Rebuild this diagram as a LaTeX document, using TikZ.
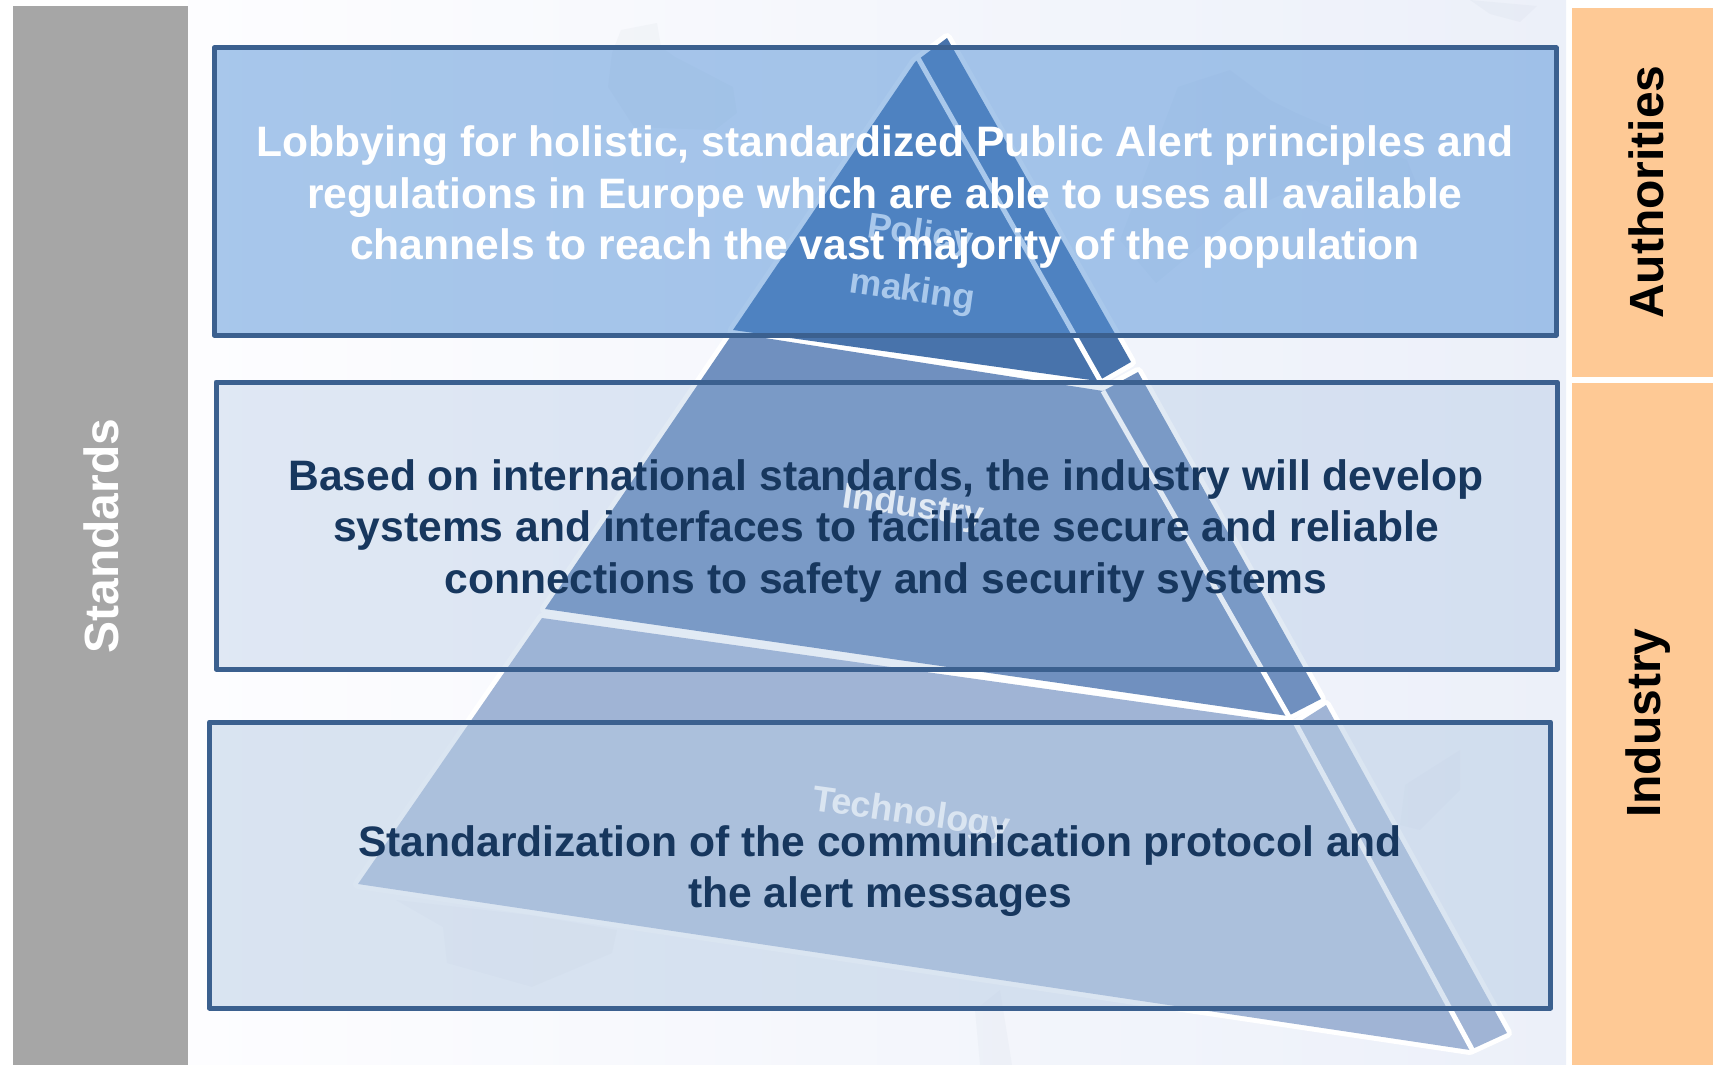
\documentclass[tikz,border=0pt]{standalone}
\usepackage{fontspec}
\setmainfont{Liberation Sans}
\definecolor{bandgrey}{HTML}{A6A6A6}
\definecolor{bandorange}{HTML}{FEC995}
\definecolor{tierone}{HTML}{4873AB}
\definecolor{tiertwo}{HTML}{7090BF}
\definecolor{tierthree}{HTML}{A0B4D5}
\definecolor{boxline}{HTML}{3B608F}
\definecolor{darktext}{HTML}{17375E}
\definecolor{boxfilla}{RGB}{84,146,216}
\definecolor{boxfillb}{RGB}{150,180,218}
\definecolor{boxfillc}{RGB}{183,204,228}
\definecolor{bgleft}{HTML}{FDFDFF}
\definecolor{bgmid}{HTML}{F8F9FE}
\definecolor{bgright}{HTML}{ECF0F9}
\definecolor{mapgrey}{HTML}{8A97AE}
\tikzset{
  panel/.style={draw=boxline,line width=5pt,line join=round,inner sep=0pt,outer sep=0pt},
  tierhalo/.style={draw=white,line width=10pt,line join=round},
  crease/.style={draw=white,line width=5pt},
  mapshape/.style={fill=mapgrey,fill opacity=.05},
  maintext/.style={font=\bfseries\fontsize{42.6}{51.5}\selectfont,align=center,inner sep=0pt},
  sidetext/.style={font=\bfseries\fontsize{48}{50}\selectfont,rotate=90,inner sep=0pt},
  pyrtext/.style={font=\bfseries\fontsize{36}{57}\selectfont,align=center,rotate=-8,inner sep=0pt}
}
\begin{document}
\begin{tikzpicture}[x=1pt,y=-1pt]
\useasboundingbox (0,0) rectangle (1713,1065);
\fill[white] (0,0) rectangle (1713,1065);
\shade[left color=bgleft,middle color=bgmid,right color=bgright] (188,0) rectangle (1566,1065);
% faint map behind everything
\fill[mapshape] (621,30) -- (657,23) -- (661,47) -- (675,57) -- (733,87) -- (737,113) -- (715,130) -- (634,127) -- (608,87) -- (612,53) -- cycle;
\fill[mapshape] (1178,87) -- (1230,70) -- (1270,100) -- (1296,113) -- (1407,160) -- (1426,207) -- (1370,210) -- (1315,180) -- (1240,213) -- (1156,283) -- (1120,240) -- cycle;
\fill[mapshape] (1470,0) -- (1537,6) -- (1520,22) -- (1490,14) -- cycle;
\fill[mapshape] (396,900) -- (443,927) -- (447,963) -- (532,987) -- (612,953) -- (617,930) -- (530,915) -- cycle;
\fill[mapshape] (1000,990) -- (1012,1065) -- (980,1065) -- (975,1010) -- cycle;
\fill[mapshape] (700,420) -- (750,440) -- (700,520) -- (660,480) -- cycle;
\fill[mapshape] (1405,785) -- (1460,750) -- (1460,790) -- (1420,830) -- (1400,825) -- cycle;
% side bands
\node[fill=bandgrey,minimum width=175pt,minimum height=1059pt,inner sep=0pt,outer sep=0pt] (standardsband) at (100.5,535.5) {};
\node[fill=bandorange,minimum width=141pt,minimum height=369pt,inner sep=0pt,outer sep=0pt] (authband) at (1642.5,192.5) {};
\node[fill=bandorange,minimum width=141pt,minimum height=682pt,inner sep=0pt,outer sep=0pt] (indband) at (1642.5,724) {};
\node[sidetext,text=white] (standards) at (101,536) {Standards};
\node[sidetext,text=black] (authorities) at (1646,192) {Authorities};
\node[sidetext,text=black] (industryband) at (1648,723) {Industry};
% pyramid: white halo first, then the tiers, whose gaps show the halo
\draw[tierhalo] (915,62) -- (733,330) -- (1098,381) -- (1131,362) -- (947,38) -- cycle;
\draw[tierhalo] (733,333) -- (545,609) -- (1288,716) -- (1321,699) -- (1138,372) -- (1103,391) -- cycle;
\draw[tierhalo] (542,618) -- (358,884) -- (1470,1050) -- (1507,1033) -- (1326,705) -- (1296,724) -- cycle;
\fill[tierthree] (542,618) -- (358,884) -- (1470,1050) -- (1507,1033) -- (1326,705) -- (1296,724) -- cycle;
\fill[tiertwo] (733,333) -- (545,609) -- (1288,716) -- (1321,699) -- (1138,372) -- (1103,391) -- cycle;
\fill[tierone] (915,62) -- (733,330) -- (1098,381) -- (1131,362) -- (947,38) -- cycle;
\draw[crease] (918,58) -- (1101,382);
\draw[crease] (1103,391) -- (1292,722);
\draw[crease] (1296,724) -- (1474,1053);
\node[pyrtext,text=white] (policy) at (916,264) {Policy\\making};
\node[pyrtext,text=white] (industrypyr) at (913,508) {Industry};
\node[pyrtext,text=white] (technology) at (911,815) {Technology};
% boxes
\node[panel,fill=boxfilla,fill opacity=.50,draw opacity=1,minimum width=1342pt,minimum height=287pt] (boxa) at (885,191.5) {};
\node[panel,fill=boxfillb,fill opacity=.28,draw opacity=1,minimum width=1341pt,minimum height=287pt] (boxb) at (886.5,525.5) {};
\node[panel,fill=boxfillc,fill opacity=.5,draw opacity=1,minimum width=1341pt,minimum height=286pt] (boxc) at (880,865) {};
\node[maintext,text=white] (texta) at (885,197) {Lobbying for holistic, standardized Public Alert principles and\\regulations in Europe which are able to uses all available\\channels to reach the vast majority of the population};
\node[maintext,text=darktext] (textb) at (886,530.5) {Based on international standards, the industry will develop\\systems and interfaces to facilitate secure and reliable\\connections to safety and security systems};
\node[maintext,text=darktext] (textc) at (880,871) {Standardization of the communication protocol and\\the alert messages};
\end{tikzpicture}
\end{document}
